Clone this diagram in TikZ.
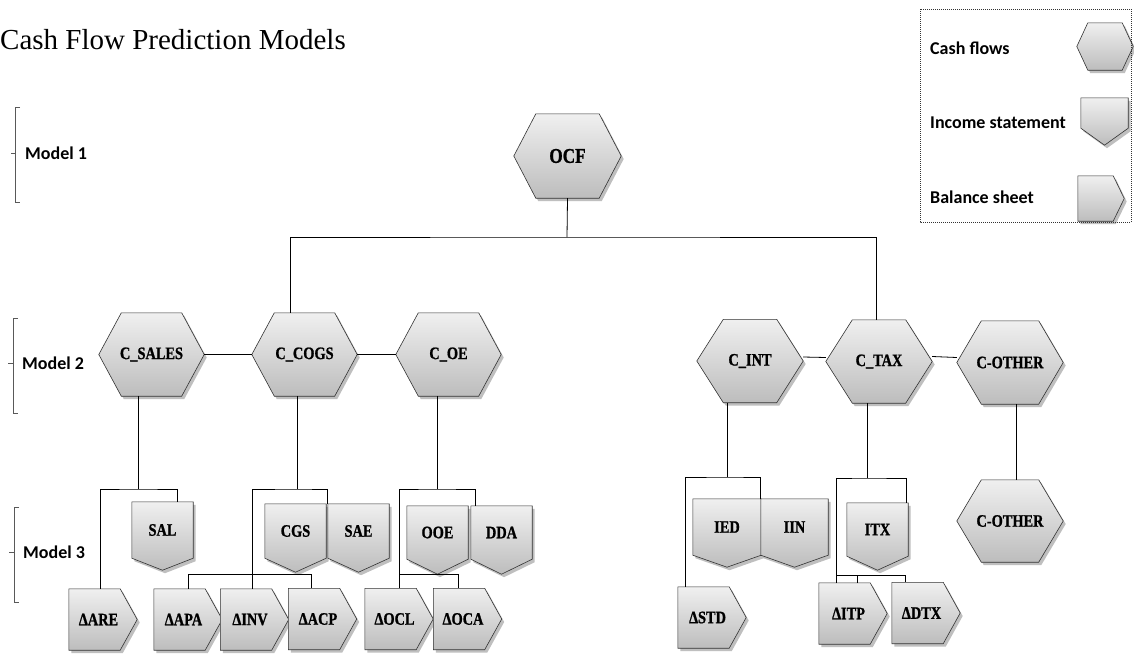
\documentclass[tikz,border=0pt]{standalone}
\usepackage{fontspec}
\setmainfont{Liberation Serif}
\newfontfamily\titlefont{Liberation Serif}
\newfontfamily\lblfont[FakeStretch=0.82,FakeBold=1]{Liberation Serif Bold}
\newfontfamily\sansb{Carlito}
\usetikzlibrary{calc,shadows}
\pgfdeclarelayer{backg}
\pgfdeclarelayer{bg}
\pgfsetlayers{backg,bg,main}
\definecolor{topg}{gray}{0.94}
\definecolor{botg}{gray}{0.74}
\tikzset{
  lbl/.style={inner sep=0pt, font=\lblfont\fontsize{17.5}{19}\selectfont},
  hexn/.style={lbl, minimum width=106pt, minimum height=83pt},
  incn/.style={lbl, minimum width=61pt, minimum height=54pt},
  baln/.style={lbl, minimum width=51pt, minimum height=61pt},
  shapefill/.style={draw=black!80, line width=0.6pt, top color=topg, bottom color=botg,
    drop shadow={shadow xshift=2.5pt, shadow yshift=-3pt, fill=black!45, opacity=0.55}},
  conn/.style={draw=black, line width=0.8pt},
  modlbl/.style={inner sep=0pt, anchor=west, font=\sansb\bfseries\fontsize{18}{20}\selectfont},
  brk/.style={draw=black!65, line width=0.8pt},
}
\newcommand\hexpath[2]{%
  \path[shapefill] (#1.west) -- ([xshift=#2pt]#1.north west) -- ([xshift=-#2pt]#1.north east)
    -- (#1.east) -- ([xshift=-#2pt]#1.south east) -- ([xshift=#2pt]#1.south west) -- cycle;}
\newcommand\incpath[2]{%
  \path[shapefill] (#1.north west) -- (#1.north east) -- (#1.south east)
    -- ([yshift=-#2pt]#1.south) -- (#1.south west) -- cycle;}
\newcommand\balpath[2]{%
  \path[shapefill] (#1.north west) -- (#1.north east) -- ([xshift=#2pt]#1.east)
    -- (#1.south east) -- (#1.south west) -- cycle;}
\newcommand\dl[1]{\hspace*{8pt}#1}
\begin{document}
\begin{tikzpicture}[x=1pt,y=-1pt]
\begin{pgfonlayer}{backg}
  \fill[white] (0,0) rectangle (1134,653);
\end{pgfonlayer}
\useasboundingbox (0,0) rectangle (1134,653);

% title
\node[inner sep=0pt, anchor=base west, font=\titlefont\fontsize{29}{32}\selectfont] (title) at (0,49.5) {Cash Flow Prediction Models};

% legend
\draw[black!80, line width=0.9pt, dash pattern=on 1pt off 1pt] (920,9) rectangle (1131,222);
\node[modlbl] (lg1) at (930,48) {Cash flows};
\node[modlbl] (lg2) at (930,122.5) {Income statement};
\node[modlbl] (lg3) at (930,197) {Balance sheet};
\node[lbl, minimum width=56pt, minimum height=47pt] (legHex) at (1105,46.5) {};
\node[lbl, minimum width=47pt, minimum height=30pt] (legInc) at (1104.5,113) {};
\node[lbl, minimum width=35pt, minimum height=45pt] (legBal) at (1095.5,198.5) {};

% model brackets
\draw[brk] (20,107) -- (15,107) -- (15,202) -- (20,202);
\draw[brk] (11,153) -- (15,153);
\draw[brk] (18,318) -- (13,318) -- (13,413) -- (18,413);
\draw[brk] (8,363) -- (13,363);
\draw[brk] (19,507) -- (14,507) -- (14,602) -- (19,602);
\draw[brk] (9,552) -- (14,552);
\node[modlbl] (m1) at (25,153) {Model 1};
\node[modlbl] (m2) at (22,363) {Model 2};
\node[modlbl] (m3) at (23,552) {Model 3};

% hexagons (cash flows)
\node[hexn, minimum width=107pt, minimum height=84pt, font=\lblfont\fontsize{21}{23}\selectfont] (OCF) at (567.5,156) {OCF};
\node[hexn, minimum width=105pt] (CSALES) at (151.5,354.5) {C\_SALES};
\node[hexn, minimum width=105pt] (CCOGS) at (304.5,354.5) {C\_COGS};
\node[hexn, minimum width=105pt] (COE) at (448.5,354.5) {C\_OE};
\node[hexn] (CINT) at (750,361) {C\_INT};
\node[hexn] (CTAX) at (879,361.5) {C\_TAX};
\node[hexn] (COTH) at (1010,362.5) {C-OTHER};
\node[hexn, minimum height=82pt] (COTHB) at (1010,521) {C-OTHER};

% income statement shapes
\node[incn, minimum height=56pt] (SAL) at (162.5,530) {SAL};
\node[incn] (CGS) at (295.5,531) {CGS};
\node[incn] (SAE) at (358.5,531) {SAE};
\node[incn, minimum height=53pt] (OOE) at (437.5,532.5) {OOE};
\node[incn, minimum height=53pt] (DDA) at (501.5,532.5) {DDA};
\node[incn, minimum width=68pt, minimum height=56pt] (IED) at (727,527) {IED};
\node[incn, minimum width=67pt, minimum height=56pt] (IIN) at (794.5,527) {IIN};
\node[incn, minimum height=53pt] (ITX) at (877.5,529.5) {ITX};

% balance sheet shapes
\node[baln] (dARE) at (94.5,619.5) {\dl{ΔARE}};
\node[baln] (dAPA) at (179.5,619.5) {\dl{ΔAPA}};
\node[baln] (dINV) at (246,619.5) {\dl{ΔINV}};
\node[baln] (dACP) at (314,619) {\dl{ΔACP}};
\node[baln] (dOCL) at (390.5,619) {\dl{ΔOCL}};
\node[baln] (dOCA) at (459,619) {\dl{ΔOCA}};
\node[baln] (dSTD) at (703.5,617.5) {\dl{ΔSTD}};
\node[baln] (dITP) at (844.5,613.5) {\dl{ΔITP}};
\node[baln] (dDTX) at (917.5,613) {\dl{ΔDTX}};

\begin{pgfonlayer}{bg}
  \hexpath{legHex}{11}
  \incpath{legInc}{17}
  \balpath{legBal}{11}
  \hexpath{OCF}{22}
  \hexpath{CSALES}{22.5}
  \hexpath{CCOGS}{22.5}
  \hexpath{COE}{22.5}
  \hexpath{CINT}{26.5}
  \hexpath{CTAX}{26.5}
  \hexpath{COTH}{24.5}
  \hexpath{COTHB}{24.5}
  \incpath{SAL}{12}
  \incpath{CGS}{14}
  \incpath{SAE}{14}
  \incpath{OOE}{15}
  \incpath{DDA}{15}
  \incpath{IED}{12}
  \incpath{IIN}{12}
  \incpath{ITX}{14}
  \balpath{dARE}{17}
  \balpath{dAPA}{17}
  \balpath{dINV}{17}
  \balpath{dACP}{17}
  \balpath{dOCL}{17}
  \balpath{dOCA}{17}
  \balpath{dSTD}{17}
  \balpath{dITP}{17}
  \balpath{dDTX}{17}
\end{pgfonlayer}

% junctions
\coordinate (jTop) at (567,237);
\coordinate (jS) at (138,489);
\coordinate (jC) at (297,489);
\coordinate (jO) at (437,489);
\coordinate (jI) at (727,477);
\coordinate (jT) at (867,478);

% connectors
\draw[conn] (OCF.south) -- (jTop);
\draw[conn] ([xshift=-14.5pt]CCOGS.north) |- (jTop) -| ([xshift=-3pt]CTAX.north);
\draw[conn] (CSALES.east) -- (CCOGS.west);
\draw[conn] (CCOGS.east) -- (COE.west);
\draw[conn] ([yshift=4pt]CINT.east) -- ([yshift=4pt]CTAX.west);
\draw[conn] ([yshift=5pt]CTAX.east) -- ([yshift=5pt]COTH.west);
\draw[conn] ([xshift=6pt]COTH.south) -- ([xshift=6pt]COTHB.north);

\draw[conn] ([xshift=-13.5pt]CSALES.south) -- (jS);
\draw[conn] ([xshift=5.5pt]dARE.north) |- (jS) -| ([xshift=14.5pt]SAL.north);

\draw[conn] ([xshift=-7.5pt]CCOGS.south) -- (jC);
\draw[conn] ([xshift=6pt]dINV.north) |- (jC) -| (SAE.north west);
\draw[conn] ([xshift=8.5pt]dAPA.north) -- ++(0,-14) -| ([xshift=-3pt]dACP.north);

\draw[conn] ([xshift=-11.5pt]COE.south) -- (jO);
\draw[conn] ([xshift=8.5pt]dOCL.north) |- (jO) -| ([xshift=-26.5pt]DDA.north);
\draw[conn] ([xshift=8.5pt]dOCL.north) -- ++(0,-14) -| ([xshift=-1pt]dOCA.north);

\draw[conn] ([xshift=-23pt]CINT.south) -- (jI);
\draw[conn] ([xshift=-18.5pt]dSTD.north) |- (jI) -| (IIN.north west);

\draw[conn] ([xshift=-12pt]CTAX.south) -- (jT);
\draw[conn] ([xshift=-8.5pt]dITP.north) |- (jT) -| ([xshift=28.5pt]ITX.north);
\draw[conn] ([xshift=-8.5pt]dITP.north) -- ++(0,-7) -| ([xshift=-12.5pt]dDTX.north);
\draw[conn] ([xshift=12.5pt]dITP.north) -- ++(0,-7);
\end{tikzpicture}
\end{document}
